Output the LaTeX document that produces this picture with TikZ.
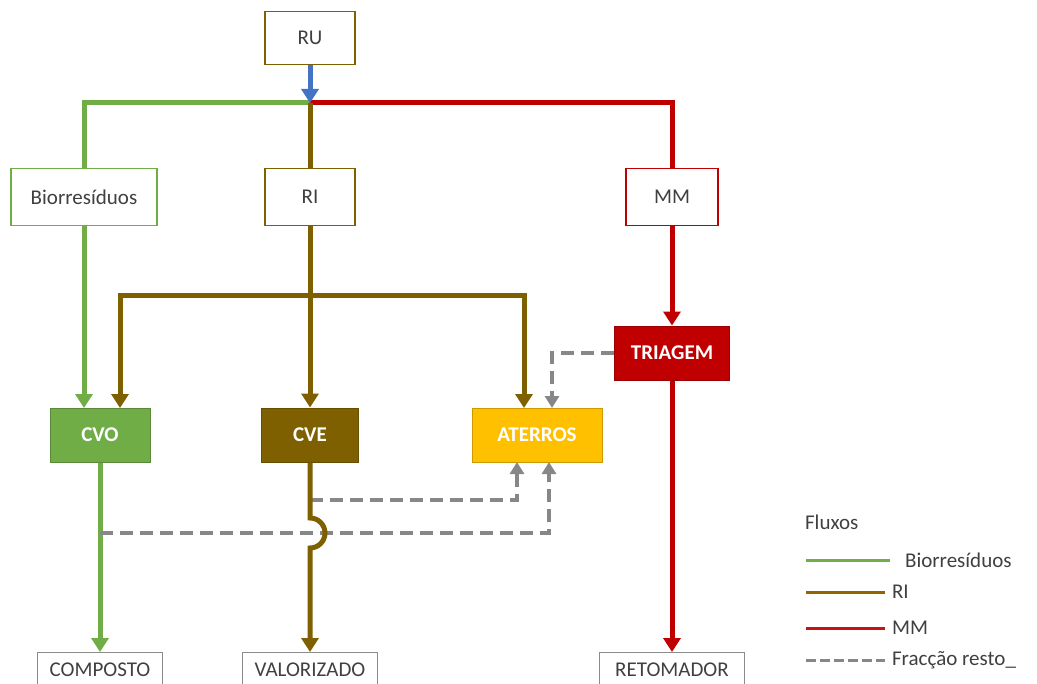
\documentclass[tikz,border=0pt]{standalone}
\usepackage{fontspec}
\setmainfont{Carlito}
\usepackage{tikz}
\usetikzlibrary{arrows.meta,calc}
\definecolor{biogreen}{RGB}{112,173,71}
\definecolor{ribrown}{RGB}{127,96,0}
\definecolor{mmred}{RGB}{192,0,0}
\definecolor{rublue}{RGB}{68,114,196}
\definecolor{aterrogold}{RGB}{255,192,0}
\definecolor{restogray}{RGB}{135,135,135}
\definecolor{txtgray}{RGB}{64,64,64}
\tikzset{
  wbox/.style={
    draw,
    fill=white,
    line width=0.8pt,
    align=center,
    minimum height=28.5pt,
    inner sep=3pt,
    text=txtgray,
    font=\fontsize{10.5}{12}\selectfont
  },
  fillbox/.style={
    draw=#1!80!black,
    fill=#1,
    line width=0.5pt,
    minimum height=27pt,
    text=white,
    font=\fontsize{10.5}{12}\selectfont\bfseries
  },
  endbox/.style={
    draw=black!45,
    line width=0.6pt,
    minimum height=17pt,
    inner ysep=1pt,
    anchor=north,
    text=txtgray,
    font=\fontsize{10.5}{12}\selectfont
  },
  flow/.style={line width=2.5pt,draw=#1},
  flowarrow/.style={flow=#1,-{Triangle[width=8.5pt,length=7pt]}},
  resto/.style={line width=2pt,draw=restogray,dash pattern=on 6.5pt off 3.5pt},
  restoarrow/.style={resto,-{Triangle[width=7pt,length=6pt]}},
  legline/.style={line width=1.5pt,draw=#1},
  legtext/.style={anchor=west,text=txtgray,font=\fontsize{10.5}{12}\selectfont}
}
\begin{document}
\begin{tikzpicture}[x=0.5pt,y=-0.5pt]
  \useasboundingbox (0,0) rectangle (1037,684);
  \clip (0,0) rectangle (1037,684);

  % caixas de entrada
  \node[wbox,draw=ribrown,minimum width=45pt,minimum height=26.5pt] (ru) at (310,38) {RU};
  \node[wbox,draw=biogreen,minimum width=73pt] (bio) at (84,197) {Biorresíduos};
  \node[wbox,draw=ribrown,minimum width=45pt] (ri) at (310,197) {RI};
  \node[wbox,draw=mmred,minimum width=46pt] (mm) at (672,197) {MM};

  % tratamento
  \node[fillbox=mmred,minimum width=57.5pt] (tri) at (672,353) {TRIAGEM};
  \node[fillbox=biogreen,minimum width=50pt] (cvo) at (100,435) {CVO};
  \node[fillbox=ribrown,minimum width=48.5pt] (cve) at (310,435) {CVE};
  \node[fillbox=aterrogold,minimum width=65pt] (ater) at (537,435) {ATERROS};

  % destino
  \node[endbox,minimum width=62.5pt] (comp) at (100,652) {COMPOSTO};
  \node[endbox,minimum width=67.5pt] (valor) at (310,652) {VALORIZADO};
  \node[endbox,minimum width=72.5pt] (reto) at (672,652) {RETOMADOR};

  % pontos auxiliares
  \coordinate (j) at (310,103);
  \coordinate (rb) at (310,295);
  \coordinate (cvoG) at (84,408);
  \coordinate (cvoB) at (120,408);
  \coordinate (aterB) at (524,408);
  \coordinate (aterT) at (552,408);
  \coordinate (aterL) at (517,462);
  \coordinate (aterR) at (549,462);
  \coordinate (cveR) at (310,500);
  \coordinate (cvoR) at (100,533);
  \coordinate (hopA) at (310,518);

  % fluxos
  \draw[flow=biogreen] (j) -| (bio.north);
  \draw[flow=mmred] (j) -| (mm.north);
  \draw[flow=ribrown] (j) -- (ri.north);
  \draw[flowarrow=rublue] (ru.south) -- (j);
  \draw[flowarrow=biogreen] (bio.south) -- (cvoG);
  \draw[flowarrow=ribrown] (ri.south) -- (cve.north);
  \draw[flowarrow=ribrown] (rb) -| (cvoB);
  \draw[flowarrow=ribrown] (rb) -| (aterB);
  \draw[flowarrow=mmred] (mm.south) -- (tri.north);
  \draw[flowarrow=mmred] (tri.south) -- (reto.north);
  \draw[flowarrow=biogreen] (cvo.south) -- (comp.north);

  % fraccao resto
  \draw[restoarrow] (tri.west) -| (aterT);
  \draw[restoarrow] (cveR) -| (aterL);
  \draw[restoarrow] (cvoR) -| (aterR);
  \draw[flowarrow=ribrown] (cve.south) -- (hopA)
    arc[start angle=90,end angle=-90,radius=7.5pt] -- (valor.north);

  % legenda
  \node[legtext] (fl) at (798,522) {Fluxos};
  \node[legtext] (lbio) at (898,560) {Biorresíduos};
  \node[legtext] (lri) at (885,592) {RI};
  \node[legtext] (lmm) at (885,628) {MM};
  \node[legtext] (lre) at (885,660) {Fracção resto\_};
  \coordinate (l1) at (806,560);
  \coordinate (l2) at (806,592);
  \coordinate (l3) at (806,628);
  \coordinate (l4) at (806,660);
  \draw[legline=biogreen] (l1) -- (l1 -| 890,0);
  \draw[legline=ribrown!85!orange] (l2) -- (lri.west);
  \draw[legline=mmred!90!pink] (l3) -- (lmm.west);
  \draw[legline=restogray,dash pattern=on 5pt off 2pt] (l4) -- (lre.west);
\end{tikzpicture}
\end{document}
